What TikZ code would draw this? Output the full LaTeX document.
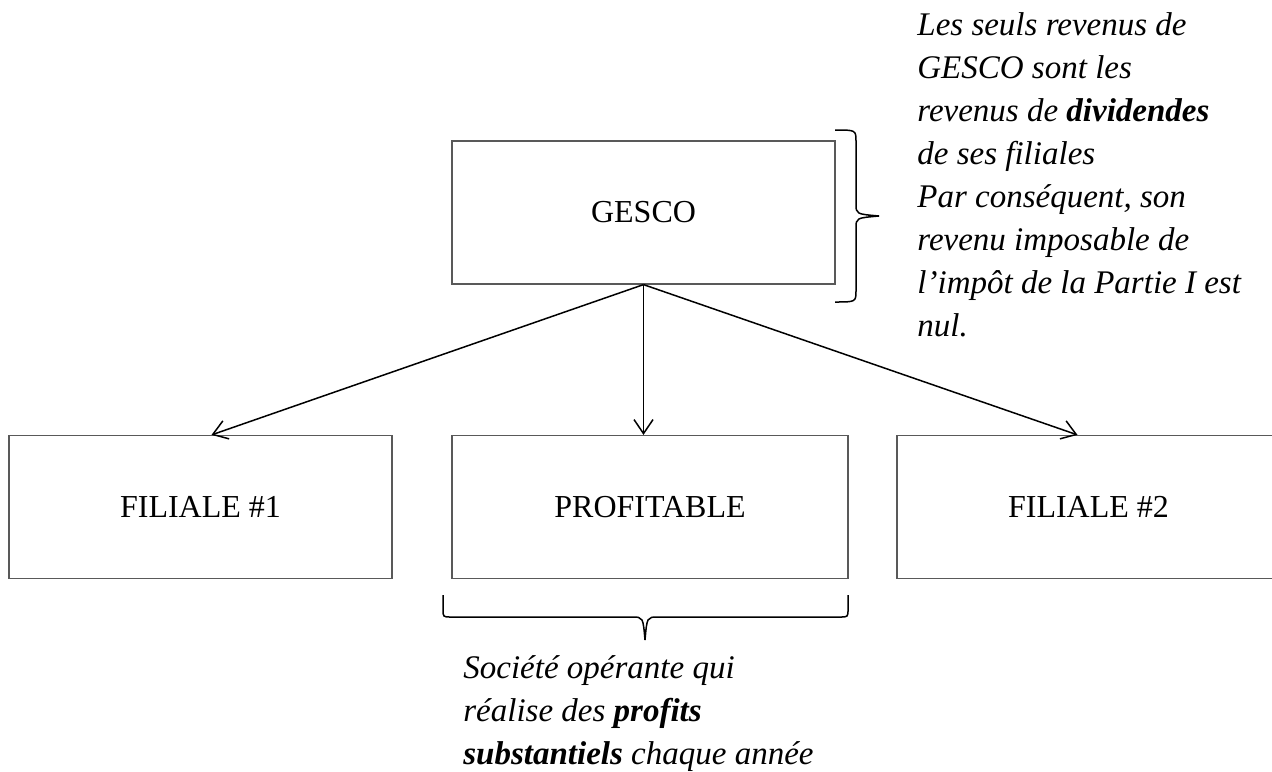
\documentclass[tikz,border=0pt]{standalone}
\usepackage{fontspec}
\setmainfont{Liberation Serif}
\usetikzlibrary{arrows.meta}

\begin{document}
\begin{tikzpicture}[x=0.5pt,y=-0.5pt,
  box/.style={draw=black!65,line width=0.6pt,minimum width=191.5pt,minimum height=71.5pt,inner sep=0pt,font=\fontsize{16}{19}\selectfont},
  note/.style={anchor=base west,align=left,inner sep=0pt,font=\fontsize{16.5}{21.5}\selectfont\itshape},
  link/.style={line width=0.75pt,-{Straight Barb[length=7pt,width=9.5pt]}},
  curly/.style={line width=0.75pt}]
\useasboundingbox (0,0) rectangle (1272,771);
\node[box] (gesco) at (643.5,212.5){GESCO};
\node[box] (fil1) at (200.5,507){FILIALE \#1};\node[box,minimum width=198pt] (profit) at (650,507){PROFITABLE};\node[box] (fil2) at (1088.5,507){FILIALE \#2};
\draw[link] (gesco.south)--([xshift=5.5pt]fil1.north);\draw[link] (gesco.south)--(gesco.south|-profit.north);\draw[link] (gesco.south)--([xshift=-5.5pt]fil2.north);
\draw[curly] (835,130) .. controls (856,130) .. (856,142) -- (856,204) .. controls (856,214) .. (879,216) .. controls (856,218) .. (856,228) -- (856,290) .. controls (856,302) .. (835,302);
\draw[curly] (443,595) -- (443,609) .. controls (443,617) .. (451,617) -- (632,617) .. controls (643,617) .. (645,640) .. controls (647,617) .. (658,617) -- (840,617) .. controls (848,617) .. (848,609) -- (848,595);
\node[note] (revenus) at (917,336){Les seuls revenus de\\GESCO sont les\\revenus de \textbf{dividendes}\\de ses filiales\\Par conséquent, son\\revenu imposable de\\l’impôt de la Partie I est\\nul.};
\node[note] (societe) at (463,764){Société opérante qui\\réalise des \textbf{profits}\\\textbf{substantiels} chaque année};
\end{tikzpicture}
\end{document}
